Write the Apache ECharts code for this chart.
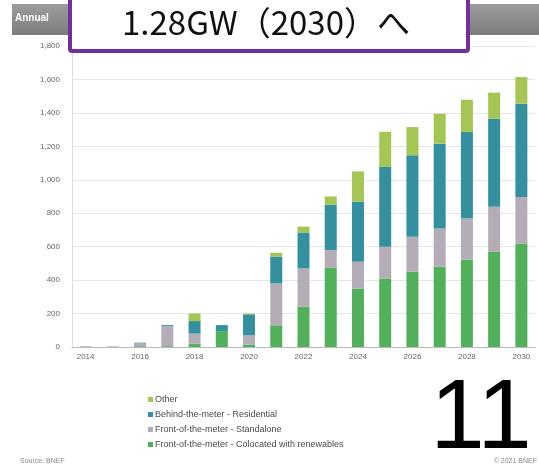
<!DOCTYPE html>
<html>
<head>
<meta charset="utf-8">
<script src="https://cdn.jsdelivr.net/npm/echarts@6/dist/echarts.min.js"></script>
<style>
  html, body { margin: 0; padding: 0; background: #ffffff; }
  #chart { width: 539px; height: 469px; }
</style>
</head>
<body>
<div id="chart"></div>
<script>
// Annual energy storage additions by segment (MW)
const years = ['2014','2015','2016','2017','2018','2019','2020','2021','2022',
               '2023','2024','2025','2026','2027','2028','2029','2030'];
const colocated   = [2, 2, 5, 5, 20, 95, 15, 130, 240, 475, 350, 410, 450, 480, 524, 569, 619];
const standalone  = [3, 2, 18, 120, 60, 0, 55, 250, 230, 105, 160, 190, 209, 229, 244, 269, 278];
const residential = [0, 0, 3, 6, 75, 36, 125, 160, 215, 270, 360, 477, 487, 507, 517, 527, 558];
const other       = [0, 0, 0, 0, 45, 0, 5, 23, 35, 50, 180, 210, 169, 179, 194, 156, 159];

const seriesNames = [
  'Other',
  'Behind-the-meter - Residential',
  'Front-of-the-meter - Standalone',
  'Front-of-the-meter - Colocated with renewables'
];
const colors = {
  colocated: '#52b05b',
  standalone: '#b4adb8',
  residential: '#34909f',
  other: '#a3c655'
};

const chart = echarts.init(document.getElementById('chart'), null, { renderer: 'canvas' });

function bar(name, data, color) {
  return {
    name: name,
    type: 'bar',
    stack: 'total',
    data: data,
    barWidth: 12,
    itemStyle: { color: color },
    emphasis: { disabled: true }
  };
}

chart.setOption({
  animation: false,
  backgroundColor: '#ffffff',
  textStyle: { fontFamily: 'Liberation Sans, Arial, sans-serif' },
  grid: { left: 72, right: 4, top: 46, bottom: 122, containLabel: false },
  legend: {
    orient: 'vertical',
    left: 143,
    top: 390,
    itemWidth: 5,
    itemHeight: 5,
    itemGap: 6,
    icon: 'rect',
    data: seriesNames,
    textStyle: { fontSize: 9, color: '#4a4a4a', padding: [0, 0, 0, -3] }
  },
  xAxis: {
    type: 'category',
    data: years,
    axisLine: { lineStyle: { color: '#bbbbbb', width: 1 } },
    axisTick: { show: false },
    axisLabel: { interval: 1, fontSize: 8, color: '#666666', margin: 6 }
  },
  yAxis: {
    type: 'value',
    min: 0,
    max: 1800,
    interval: 200,
    axisLine: { show: true, lineStyle: { color: '#dddddd', width: 1 } },
    axisTick: { show: false },
    splitLine: { lineStyle: { color: '#e6e6e6', width: 1 } },
    axisLabel: {
      fontSize: 8,
      color: '#666666',
      margin: 12,
      formatter: v => v.toLocaleString('en-US')
    }
  },
  series: [
    bar(seriesNames[3], colocated, colors.colocated),
    bar(seriesNames[2], standalone, colors.standalone),
    bar(seriesNames[1], residential, colors.residential),
    bar(seriesNames[0], other, colors.other)
  ],
  graphic: [
    {
      type: 'rect',
      shape: { x: 12, y: 4, width: 527, height: 31 },
      style: {
        fill: new echarts.graphic.LinearGradient(0, 0, 0, 1, [
          { offset: 0, color: '#9c9c9c' },
          { offset: 1, color: '#7d7d7d' }
        ])
      },
      z: 10
    },
    {
      type: 'text',
      left: 15,
      top: 13,
      style: { text: 'Annual', fill: '#ffffff', fontSize: 10, fontWeight: 'bold',
               fontFamily: 'Liberation Sans, Arial, sans-serif' },
      z: 11
    },
    {
      type: 'rect',
      shape: { x: 70, y: -4, width: 398, height: 55, r: 2 },
      style: { fill: '#ffffff', stroke: '#7030a0', lineWidth: 4 },
      z: 12
    },
    {
      type: 'text',
      x: 266,
      y: 22,
      style: {
        text: '1.28GW（2030）へ',
        fill: '#111111',
        fontSize: 33,
        align: 'center',
        verticalAlign: 'middle',
        fontFamily: 'Noto Sans CJK JP, Noto Sans, sans-serif'
      },
      z: 13
    },
    {
      type: 'text',
      x: 481,
      y: 421,
      style: {
        text: '11',
        fill: '#000000',
        fontSize: 98,
        align: 'center',
        verticalAlign: 'middle',
        fontFamily: 'Liberation Sans, Arial, sans-serif'
      },
      z: 13
    },
    {
      type: 'text',
      left: 20,
      top: 458,
      style: { text: 'Source: BNEF', fill: '#888888', fontSize: 7,
               fontFamily: 'Liberation Sans, Arial, sans-serif' },
      z: 11
    },
    {
      type: 'text',
      right: 2,
      top: 458,
      style: { text: '© 2021 BNEF', fill: '#888888', fontSize: 7,
               fontFamily: 'Liberation Sans, Arial, sans-serif' },
      z: 11
    }
  ]
});
</script>
</body>
</html>
